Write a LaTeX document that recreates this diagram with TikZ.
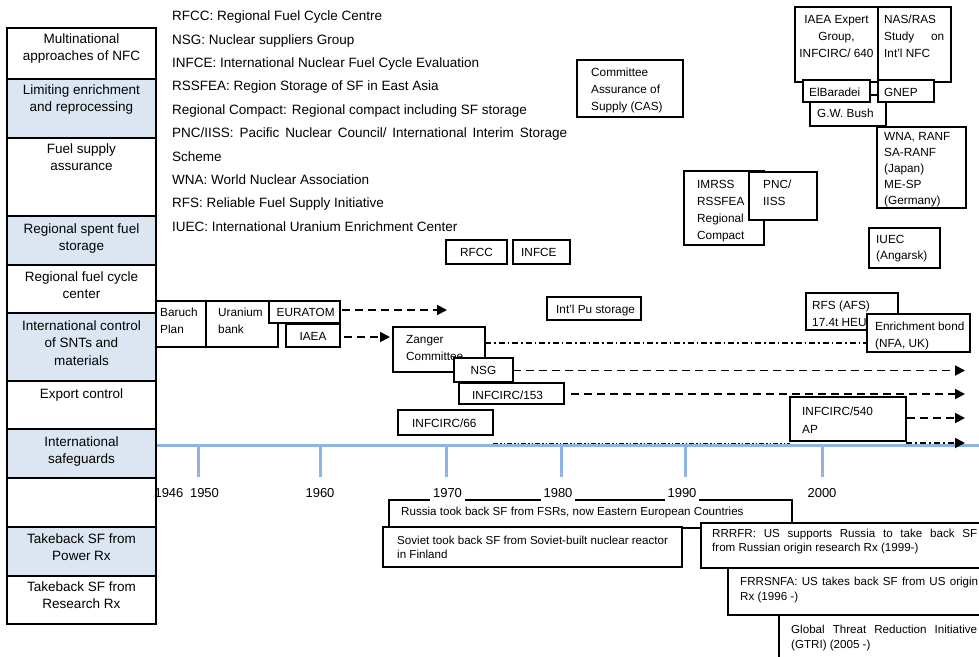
\documentclass[tikz,border=0pt]{standalone}
\usepackage{fontspec}
\setmainfont{Liberation Sans}
\usetikzlibrary{arrows.meta}
\definecolor{rowblue}{RGB}{220,230,242}
\definecolor{axisblue}{RGB}{141,180,226}
\newcommand\fsz[2]{\fontsize{#1}{#2}\selectfont}
\newcommand\mybox[6][]{\node[bxs,#1,minimum width={(#4)-(#2)},minimum height={(#5)-(#3)}] (#6) at ({((#2)+(#4))/2},{((#3)+(#5))/2}) {};}
\begin{document}
\begin{tikzpicture}[x=1pt,y=-1pt,
  bxs/.style={draw=black,line width=1.4pt,fill=white,inner sep=0pt,outer sep=0pt},
  txs/.style={anchor=base west,align=left,inner sep=0pt,font=\fsz{11.8}{17}},
  btx/.style={anchor=base west,align=left,inner sep=0pt,font=\fsz{11.6}{14.5}},
  rowtxt/.style={anchor=base,align=center,inner sep=0pt,font=\fsz{13.5}{17.3}},
  lgd/.style={anchor=base west,inner sep=0pt,font=\fsz{13.5}{16}},
  yr/.style={anchor=base,inner xsep=3pt,inner ysep=3.5pt,font=\fsz{13}{15}},
  yrw/.style={yr,fill=white},
  dsh/.style={line width=1.8pt,dash pattern=on 8pt off 5pt,-{Triangle[length=10pt,width=10pt]}},
  dashdot/.style={line width=1.3pt,dash pattern=on 6pt off 3pt on 1.5pt off 3pt},
  ddarrow/.style={line width=1.8pt,dash pattern=on 6pt off 3pt on 2pt off 3pt,-{Triangle[length=10pt,width=10pt]}},
  dashdotdot/.style={line width=1pt,dash pattern=on 5pt off 2pt on 1.5pt off 2pt on 1.5pt off 2pt},
  axisline/.style={axisblue,line width=3pt}
]
\useasboundingbox (0,0) rectangle (979,656);
\clip (0,0) rectangle (979,656);
\fill[white] (0,0) rectangle (979,656);

% multi-line nodes are placed by the baseline of their last line

% ---------- left column ----------
\mybox{7}{28}{156}{79}{r1}
\node[rowtxt] (tr1) at (81.5,60.8) {Multinational\\approaches of NFC};
\mybox[fill=rowblue]{7}{79}{156}{138}{r2}
\node[rowtxt] (tr2) at (81.5,111.3) {Limiting enrichment\\and reprocessing};
\mybox{7}{138}{156}{216}{r3}
\node[rowtxt] (tr3) at (81.5,170.3) {Fuel supply\\assurance};
\mybox[fill=rowblue]{7}{216}{156}{265}{r4}
\node[rowtxt] (tr4) at (81.5,250.3) {Regional spent fuel\\storage};
\mybox{7}{265}{156}{313}{r5}
\node[rowtxt] (tr5) at (81.5,298.3) {Regional fuel cycle\\center};
\mybox[fill=rowblue]{7}{313}{156}{381}{r6}
\node[rowtxt] (tr6) at (81.5,365.1) {International control\\of SNTs and\\materials};
\mybox{7}{381}{156}{429}{r7}
\node[rowtxt] (tr7) at (81.5,398.5) {Export control};
\mybox[fill=rowblue]{7}{429}{156}{478}{r8}
\node[rowtxt] (tr8) at (81.5,463.8) {International\\safeguards};
\mybox{7}{478}{156}{527}{r9}
\mybox[fill=rowblue]{7}{527}{156}{576}{r10}
\node[rowtxt] (tr10) at (81.5,560.8) {Takeback SF from\\Power Rx};
\mybox{7}{576}{156}{624}{r11}
\node[rowtxt] (tr11) at (81.5,608.8) {Takeback SF from\\Research Rx};

% ---------- legend ----------
\node[lgd] (lg1) at (172,20.7) {RFCC: Regional Fuel Cycle Centre};
\node[lgd] (lg2) at (172,44.1) {NSG: Nuclear suppliers Group};
\node[lgd] (lg3) at (172,67.5) {INFCE: International Nuclear Fuel Cycle Evaluation};
\node[lgd] (lg4) at (172,90.9) {RSSFEA: Region Storage of SF in East Asia};
\node[lgd] (lg5) at (172,114.3) {Regional Compact: Regional compact including SF storage};
\node[lgd] (lg6) at (172,137.7) {\makebox[395pt][s]{PNC/IISS: Pacific Nuclear Council/ International Interim Storage}};
\node[lgd] (lg7) at (172,161.1) {Scheme};
\node[lgd] (lg8) at (172,184.5) {WNA: World Nuclear Association};
\node[lgd] (lg9) at (172,207.9) {RFS: Reliable Fuel Supply Initiative};
\node[lgd] (lg10) at (172,231.3) {IUEC: International Uranium Enrichment Center};

% ---------- axis ----------
\draw[axisline] (157,445.5) -- (979,445.5);
\foreach \tx in {198,320,446,561,685,822}
  \draw[axisline] (\tx,446) -- (\tx,477);

% ---------- top right boxes ----------
\mybox{795}{7}{878}{82}{iaeaeg}
\node[txs,anchor=base,align=center] (tiaeaeg) at (836.5,57) {IAEA Expert\\Group,\\INFCIRC/ 640};
\mybox{878}{7}{951}{82}{nasras}
\node[txs] (tnasras) at (884,57) {NAS/RAS\\\makebox[60pt][s]{Study on}\\Int'l NFC};
\mybox{810}{95}{886}{126}{bush}
\node[txs] (tbush) at (817,117) {G.W. Bush};
\mybox{803}{80}{870}{102}{elb}
\node[txs] (telb) at (809,96.5) {ElBaradei};
\mybox{878}{80}{934}{102}{gnep}
\node[txs] (tgnep) at (884,96.5) {GNEP};
\mybox{877}{127}{966}{208}{wna}
\node[txs,font=\fsz{11.8}{16}] (twna) at (884,204.5) {WNA, RANF\\SA-RANF\\(Japan)\\ME-SP\\(Germany)};
\mybox{577}{60}{683}{117}{cas}
\node[txs] (tcas) at (591,110) {Committee\\Assurance of\\Supply (CAS)};
\mybox{684}{171}{764}{245}{imrss}
\node[txs] (timrss) at (697,239) {IMRSS\\RSSFEA\\Regional\\Compact};
\mybox{749}{172}{817}{220}{pnc}
\node[txs] (tpnc) at (763,205) {PNC/\\IISS};
\mybox{869}{228}{940}{268}{iuec}
\node[txs,font=\fsz{11.8}{16.5}] (tiuec) at (876,259.5) {IUEC\\(Angarsk)};

% ---------- middle boxes ----------
\mybox{446}{240}{507}{264}{rfcc}
\node[txs,anchor=base] (trfcc) at (476.5,256.5) {RFCC};
\mybox{513}{240}{570}{264}{infce}
\node[txs] (tinfce) at (521,256.5) {INFCE};
\mybox{547}{297}{641}{320}{pu}
\node[txs] (tpu) at (556,313.5) {Int'l Pu storage};
\mybox{156}{301}{206}{347}{baruch}
\node[txs] (tbaruch) at (160,333) {Baruch\\Plan};
\mybox{206}{301}{278}{347}{ubank}
\node[txs] (tubank) at (218,333) {Uranium\\bank};
\mybox{269}{301}{340}{323}{euratom}
\node[txs] (teuratom) at (276.5,316.5) {EURATOM};
\mybox{286}{324}{340}{347}{iaea}
\node[txs,anchor=base] (tiaea) at (313,340) {IAEA};
\mybox{393}{327}{485}{372}{zanger}
\node[txs] (tzanger) at (406,360) {Zanger\\Committee};
\mybox{454}{358}{513}{382}{nsg}
\node[txs,anchor=base] (tnsg) at (483.5,374.5) {NSG};
\mybox{459}{383}{564}{404}{i153}
\node[txs] (ti153) at (472,399) {INFCIRC/153};
\mybox{398}{410}{493}{435}{i66}
\node[txs] (ti66) at (412,427) {INFCIRC/66};
\mybox{806}{293}{898}{330}{rfs}
\node[txs,font=\fsz{11.8}{17.5}] (trfs) at (812,326.5) {RFS (AFS)\\17.4t HEU};
\mybox{867}{314}{970}{352}{enrich}
\node[txs] (tenrich) at (875,347) {Enrichment bond\\(NFA, UK)};
\mybox{790}{397}{906}{441}{i540}
\node[txs,font=\fsz{11.8}{18}] (ti540) at (802,433) {INFCIRC/540\\AP};

% ---------- connectors ----------
\coordinate (eurEnd) at (447,310);
\coordinate (iaeaY) at (0,337);
\coordinate (zangY) at (0,343);
\coordinate (nsgEnd) at (965,370.5);
\coordinate (i153End) at (965,394);
\coordinate (i540End) at (965,418);
\coordinate (ddEnd) at (965,443);
\draw[dsh,shorten <=2pt] (euratom.east |- eurEnd) -- (eurEnd);
\draw[dsh,shorten <=4pt,shorten >=3pt] (iaea.east |- iaeaY) -- (zanger.west |- iaeaY);
\draw[dashdot] (zanger.east |- zangY) -- (enrich.west |- zangY);
\draw[dsh] (nsg.east |- nsgEnd) -- (nsgEnd);
\draw[dsh,shorten <=7pt] (i153.east |- i153End) -- (i153End);
\draw[dsh,shorten <=1pt] (i540.east |- i540End) -- (i540End);
\draw[dashdotdot] (i66.south east |- ddEnd) -- (i540.south west |- ddEnd);
\draw[ddarrow] (i540.south east |- ddEnd) -- (ddEnd);

% ---------- bottom boxes ----------
\mybox{389}{500}{792}{528}{russia}
\node[btx] (trussia) at (401,515) {Russia took back SF from FSRs, now Eastern European Countries};
\mybox{383}{527}{682}{567}{soviet}
\node[btx] (tsoviet) at (397,558.5) {Soviet took back SF from Soviet-built nuclear reactor\\in Finland};
\mybox{701}{523}{995}{568}{rrrfr}
\node[btx] (trrrfr) at (712,551.5) {\makebox[265pt][s]{RRRFR: US supports Russia to take back SF}\\from Russian origin research Rx (1999-)};
\mybox{728}{568}{995}{615}{frr}
\node[btx] (tfrr) at (740,600) {\makebox[238pt][s]{FRRSNFA: US takes back SF from US origin}\\Rx (1996 -)};
\mybox{779}{615}{995}{670}{gtri}
\node[btx,font=\fsz{11.6}{15}] (tgtri) at (791,648) {\makebox[186pt][s]{Global Threat Reduction Initiative}\\(GTRI) (2005 -)};

% ---------- year labels ----------
\node[yr] (y1946) at (169,497) {1946};
\node[yr] (y1950) at (204.5,497) {1950};
\node[yr] (y1960) at (320,497) {1960};
\node[yrw] (y1970) at (447.5,497) {1970};
\node[yrw] (y1980) at (558,497) {1980};
\node[yrw] (y1990) at (682,497) {1990};
\node[yr] (y2000) at (822,497) {2000};
\end{tikzpicture}
\end{document}
